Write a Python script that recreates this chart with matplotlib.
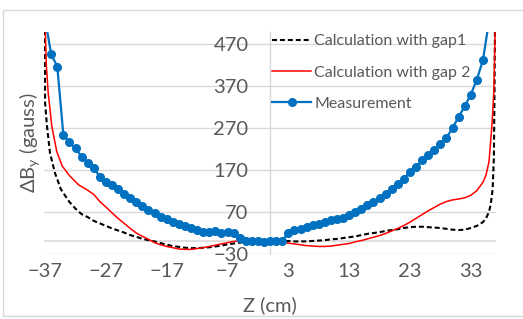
import matplotlib
matplotlib.use("Agg")
import matplotlib.pyplot as plt
from matplotlib.patches import Rectangle

plt.rcParams['font.family'] = ['Lato', 'DejaVu Sans']
plt.rcParams['mathtext.fontset'] = 'custom'
plt.rcParams['mathtext.rm'] = 'Lato'

# --- данные ---
z_gap1 = [-37.1, -37.0, -36.7, -36.2, -35.4, -34.4, -33.0, -32.0, -31.0, -30.0,
          -29.0, -28.0, -27.0, -26.0, -25.0, -24.0, -23.0, -22.0, -21.0, -20.0,
          -19.0, -18.0, -17.0, -16.0, -15.0, -14.0, -13.0, -12.0, -11.0, -10.0,
          -9.0, -8.0, -7.0, -6.0, -5.0, -4.0, -3.0, -2.0, -1.0, 0.0,
          1.0, 2.0, 3.0, 4.0, 5.0, 6.0, 7.0, 8.0, 9.0, 10.0,
          11.0, 12.0, 13.0, 14.0, 15.0, 16.0, 17.0, 18.0, 19.0, 20.0,
          21.0, 22.0, 23.0, 24.0, 25.0, 26.0, 27.0, 28.0, 29.0, 30.0,
          31.0, 32.0, 33.0, 34.0, 35.0, 35.5, 36.0, 36.3, 36.6, 36.8,
          36.9, 37.0]
b_gap1 = [560, 330, 276, 211, 164, 124, 94, 78, 65, 58,
          49, 43, 37, 31, 26, 21, 15, 11, 6, 3,
          0, -4, -8, -11, -13, -15, -16, -16, -15, -14,
          -12, -10, -7, -5, -3, -1, 0, 0, 0, 0,
          0, 0, 1, 0, 0, 0, 1, 2, 3, 5,
          6, 8, 10, 12, 15, 18, 20, 22, 25, 27,
          29, 32, 34, 35, 35, 34, 33, 32, 30, 28,
          27, 28, 32, 37, 46, 55, 70, 90, 125, 200,
          350, 560]

z_gap2 = [-37.0, -36.8, -36.5, -35.9, -35.1, -34.2, -33.0, -31.5, -30.0, -29.0,
          -28.0, -27.0, -26.0, -25.0, -24.0, -23.0, -22.0, -21.0, -20.0, -19.0,
          -18.0, -17.0, -16.0, -15.0, -14.0, -13.0, -12.0, -11.0, -10.0, -9.0,
          -8.0, -7.0, -6.0, -5.0, -4.0, -3.0, -2.0, -1.0, 0.0, 1.0,
          2.0, 3.0, 4.0, 5.0, 6.0, 7.0, 8.0, 9.0, 10.0, 11.0,
          12.0, 13.0, 14.0, 15.0, 16.0, 17.0, 18.0, 19.0, 20.0, 21.0,
          22.0, 23.0, 24.0, 25.0, 26.0, 27.0, 28.0, 29.0, 30.0, 31.0,
          32.0, 33.0, 34.0, 35.0, 35.5, 36.0, 36.5, 36.8, 37.0, 37.05]
b_gap2 = [520, 420, 355, 275, 215, 180, 157, 135, 122, 112,
          95, 82, 68, 55, 43, 31, 20, 12, 5, -3,
          -8, -12, -15, -18, -19, -19, -17, -15, -12, -9,
          -6, -3, 0, 1, 0, 0, 0, 0, -1, -1,
          -2, -4, -6, -8, -10, -11, -12, -12, -11, -9,
          -7, -5, -1, 2, 6, 10, 14, 19, 25, 31,
          38, 46, 55, 64, 73, 81, 89, 95, 99, 101,
          104, 110, 121, 141, 158, 190, 280, 360, 500, 560]

z_meas = [-37, -36, -35, -34, -33, -32, -31, -30, -29, -28,
          -27, -26, -25, -24, -23, -22, -21, -20, -19, -18,
          -17, -16, -15, -14, -13, -12, -11, -10, -9, -8,
          -7, -6, -5, -4, -3, -2, -1, 0, 1, 2,
          3, 4, 5, 6, 7, 8, 9, 10, 11, 12,
          13, 14, 15, 16, 17, 18, 19, 20, 21, 22,
          23, 24, 25, 26, 27, 28, 29, 30, 31, 32,
          33, 34, 35, 36]
b_meas = [530, 446, 417, 254, 236, 222, 202, 188, 175, 154,
          142, 134, 124, 113, 104, 94, 84, 76, 67, 59,
          53, 47, 42, 37, 32, 28, 22, 23, 25, 20,
          22, 20, 8, 2, 0, 0, -1, 0, 1, 2,
          20, 27, 29, 34, 38, 42, 46, 50, 54, 57,
          62, 70, 78, 86, 95, 104, 114, 126, 138, 150,
          165, 178, 193, 205, 218, 232, 247, 270, 297, 322,
          350, 386, 432, 525]

x_ticks = [-37, -27, -17, -7, 3, 13, 23, 33]
y_ticks = [-30, 70, 170, 270, 370, 470]

grey = '#595959'
grid_c = '#d9d9d9'

W, H = 523, 319
fig = plt.figure(figsize=(W / 100, H / 100), dpi=100)
# область построения в пикселях исходника
x0, x1, y_top, y_bot = 43.9, 496.0, 31.7, 254.0
ax = fig.add_axes([x0 / W, 1 - y_bot / H, (x1 - x0) / W, (y_bot - y_top) / H])

ax.plot(z_gap1, b_gap1, color='black', lw=1.5, ls=(0, (2.4, 1.4)),
        label='Calculation with gap1', zorder=3)
ax.plot(z_gap2, b_gap2, color='#ff0000', lw=1.1,
        label='Calculation with gap 2', zorder=4)
ax.plot(z_meas, b_meas, color='#0070c0', lw=1.6, marker='o', ms=5.5,
        label='Measurement', zorder=5)

ax.set_xlim(-37.2, 37.15)
ax.set_ylim(-30, 500)
ax.set_xticks(x_ticks)
ax.set_yticks(y_ticks)

ax.yaxis.grid(True, color=grid_c, lw=1.0)
ax.set_axisbelow(True)
ax.axhline(0, color=grid_c, lw=1.2, zorder=1)

for s in ['top', 'right', 'bottom']:
    ax.spines[s].set_visible(False)
ax.spines['left'].set_position(('data', 0))
ax.spines['left'].set_color(grid_c)
ax.spines['left'].set_linewidth(1.0)

ax.tick_params(axis='y', length=0, pad=15.5, labelsize=14.5, labelcolor=grey)
ax.tick_params(axis='x', length=0, pad=6.5, labelsize=14.5, labelcolor=grey)

ax.set_xlabel('Z (cm)', fontsize=14.5, color=grey, va='center')
ax.xaxis.set_label_coords(0.5, (y_bot - 305) / (y_bot - y_top))
ax.set_ylabel(r'ΔB$_\mathregular{y}$ (gauss)', fontsize=14.5, color=grey, va='center')
ax.yaxis.set_label_coords((30 - x0) / (x1 - x0), 0.5)

leg = ax.legend(loc='upper left', bbox_to_anchor=(272 / W, 1 - 34 / H),
                bbox_transform=fig.transFigure, frameon=False, fontsize=11.5,
                borderpad=0, borderaxespad=0, handlelength=2.45,
                handletextpad=0.2, labelspacing=1.08)
for t in leg.get_texts():
    t.set_color(grey)

# рамка области диаграммы
fig.add_artist(Rectangle((3 / W, 1 - 316 / H), 1.2, (316 - 10) / H,
                         transform=fig.transFigure, fill=False,
                         ec=grid_c, lw=1.0))

fig.savefig('out.png', dpi=100)
